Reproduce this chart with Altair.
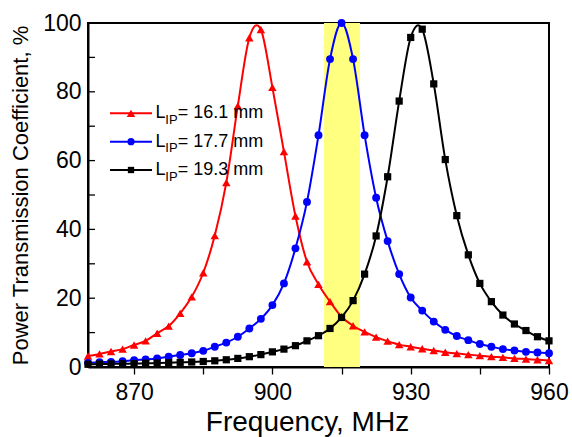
import altair as alt
import pandas as pd

# ---------------- data ----------------
freq = [860.0, 862.5, 865.0, 867.5, 870.0, 872.5, 875.0, 877.5, 880.0, 882.5,
        885.0, 887.5, 890.0, 892.5, 895.0, 897.5, 900.0, 902.5, 905.0, 907.5,
        910.0, 912.5, 915.0, 917.5, 920.0, 922.5, 925.0, 927.5, 930.0, 932.5,
        935.0, 937.5, 940.0, 942.5, 945.0, 947.5, 950.0, 952.5, 955.0, 957.5,
        960.0]

red_vals = [3.2, 3.8, 4.5, 5.2, 6.4, 7.6, 9.8, 11.9, 15.6, 20.4,
            27.4, 38.2, 53.6, 75.9, 95.7, 98.1, 81.3, 62.6, 43.9, 30.6,
            24.0, 19.0, 14.6, 12.0, 10.2, 8.7, 7.5, 6.5, 5.9, 5.3,
            4.8, 4.3, 3.9, 3.6, 3.3, 3.0, 2.8, 2.5, 2.3, 2.1,
            1.9]

blue_vals = [1.2, 1.4, 1.5, 1.7, 2.0, 2.2, 2.5, 3.0, 3.5, 4.0,
             4.7, 5.9, 7.1, 8.8, 11.2, 14.0, 18.0, 24.3, 34.5, 48.0,
             67.4, 89.5, 100.0, 89.5, 67.4, 49.2, 36.6, 27.0, 20.2, 16.4,
             13.2, 10.8, 9.0, 7.8, 6.7, 5.9, 5.2, 4.8, 4.4, 4.2,
             4.0]

black_vals = [0.8, 0.85, 0.9, 0.95, 1.0, 1.1, 1.15, 1.25, 1.35, 1.45,
              1.6, 1.8, 2.1, 2.5, 3.0, 3.6, 4.4, 5.2, 6.2, 7.6,
              9.1, 11.2, 14.4, 19.3, 27.0, 38.1, 55.3, 77.3, 95.8, 98.2,
              82.3, 60.3, 44.0, 32.6, 24.3, 19.0, 15.1, 12.5, 10.6, 8.8,
              7.6]

series_names = ["16.1 mm", "17.7 mm", "19.3 mm"]
legend_rest = ["= 16.1 mm", "= 17.7 mm", "= 19.3 mm"]
band = [911.2, 919.0]
x_tick_values = [870, 885, 900, 915, 930, 945, 960]
y_tick_values = [0, 10, 20, 30, 40, 50, 60, 70, 80, 90, 100]
y_label_values = [0, 20, 40, 60, 80, 100]

# ---------------- styles ----------------
colors = ["#ff0000", "#0000ff", "#000000"]
shapes = ["triangle-up", "circle", "square"]
sizes = [72, 52, 40]
FONT = "Liberation Sans"
W, H = 461, 344

rows = []
for name, vals in zip(series_names, [red_vals, blue_vals, black_vals]):
    for f, v in zip(freq, vals):
        rows.append({"freq": f, "T": v, "series": name})
df = pd.DataFrame(rows)

x_scale = alt.Scale(domain=[860, 960], nice=False, zero=False)
y_scale = alt.Scale(domain=[0, 100], nice=False, zero=False)
color_scale = alt.Scale(domain=series_names, range=colors)
shape_scale = alt.Scale(domain=series_names, range=shapes)
size_scale = alt.Scale(domain=series_names, range=sizes)

x_axis = alt.Axis(values=x_tick_values, labelExpr="datum.value % 30 == 0 ? datum.label : ''",
                  title="Frequency, MHz", tickSize=7, tickWidth=1.3, tickColor="black",
                  labelPadding=7, labelFlush=False, labelOverlap=False,
                  labelFontSize=23, titleFontSize=28, titleX=219, titleY=63,
                  titleBaseline="alphabetic", grid=False)
y_axis = alt.Axis(values=y_label_values, title="Power Transmission Coefficient, %",
                  ticks=False, tickSize=0, labelPadding=7, labelFlush=False,
                  labelOverlap=False, labelFontSize=23, titleFontSize=22,
                  titleX=-61, titleBaseline="alphabetic", grid=False)

band_df = pd.DataFrame({"freq": [band[0]], "freq2": [band[1]]})
band_layer = alt.Chart(band_df).mark_rect(color="#ffff80").encode(
    x=alt.X("freq:Q", scale=x_scale, axis=x_axis),
    x2="freq2:Q",
    y=alt.datum(0, scale=y_scale),
    y2=alt.datum(100),
)

lines = alt.Chart(df).mark_line(interpolate="cardinal", strokeWidth=2).encode(
    x=alt.X("freq:Q", scale=x_scale, axis=x_axis),
    y=alt.Y("T:Q", scale=y_scale, axis=y_axis),
    color=alt.Color("series:N", scale=color_scale, legend=None),
    detail="series:N",
)

points = alt.Chart(df).mark_point(filled=True, opacity=1).encode(
    x=alt.X("freq:Q", scale=x_scale),
    y=alt.Y("T:Q", scale=y_scale),
    color=alt.Color("series:N", scale=color_scale, legend=None),
    shape=alt.Shape("series:N", scale=shape_scale, legend=None),
    size=alt.Size("series:N", scale=size_scale, legend=None),
)

yt_df = pd.DataFrame({"T": y_tick_values})
y_ticks = alt.Chart(yt_df).mark_rule(color="black", strokeWidth=1.3).encode(
    y=alt.Y("T:Q", scale=y_scale),
    x=alt.value(0),
    x2=alt.value(7),
)

# ---------------- custom legend (with subscript) ----------------
legend_layers = []
row_y = [90.3, 118.7, 147.0]
for i in range(3):
    ldf = pd.DataFrame({"main": ["L"], "sub": ["IP"], "rest": [legend_rest[i]]})
    base = alt.Chart(ldf)
    legend_layers.append(base.mark_rule(color=colors[i], strokeWidth=2).encode(
        x=alt.value(22), x2=alt.value(64), y=alt.value(row_y[i])))
    legend_layers.append(base.mark_point(shape=shapes[i], filled=True, opacity=1,
                                         size=sizes[i], color=colors[i]).encode(
        x=alt.value(43), y=alt.value(row_y[i])))
    legend_layers.append(base.mark_text(align="left", baseline="middle", fontSize=18,
                                        font=FONT, color="black").encode(
        text="main:N", x=alt.value(67.5), y=alt.value(row_y[i])))
    legend_layers.append(base.mark_text(align="left", baseline="middle", fontSize=13,
                                        font=FONT, color="black").encode(
        text="sub:N", x=alt.value(77.3), y=alt.value(row_y[i] + 6.5)))
    legend_layers.append(base.mark_text(align="left", baseline="middle", fontSize=18,
                                        font=FONT, color="black").encode(
        text="rest:N", x=alt.value(89.8), y=alt.value(row_y[i])))

chart = alt.layer(band_layer, y_ticks, lines, points, *legend_layers).properties(
    width=W, height=H,
    padding={"left": 88, "top": 23, "right": 23, "bottom": 70},
    autosize=alt.AutoSizeParams(type="none"),
    background="white",
).configure_view(
    stroke="black", strokeWidth=2,
).configure_axis(
    domainColor="black", domainWidth=2, labelColor="black", titleColor="black",
    labelFont=FONT, titleFont=FONT, titleFontWeight="normal",
)

chart.save("out.html", embed_options={"renderer": "svg", "actions": False})
